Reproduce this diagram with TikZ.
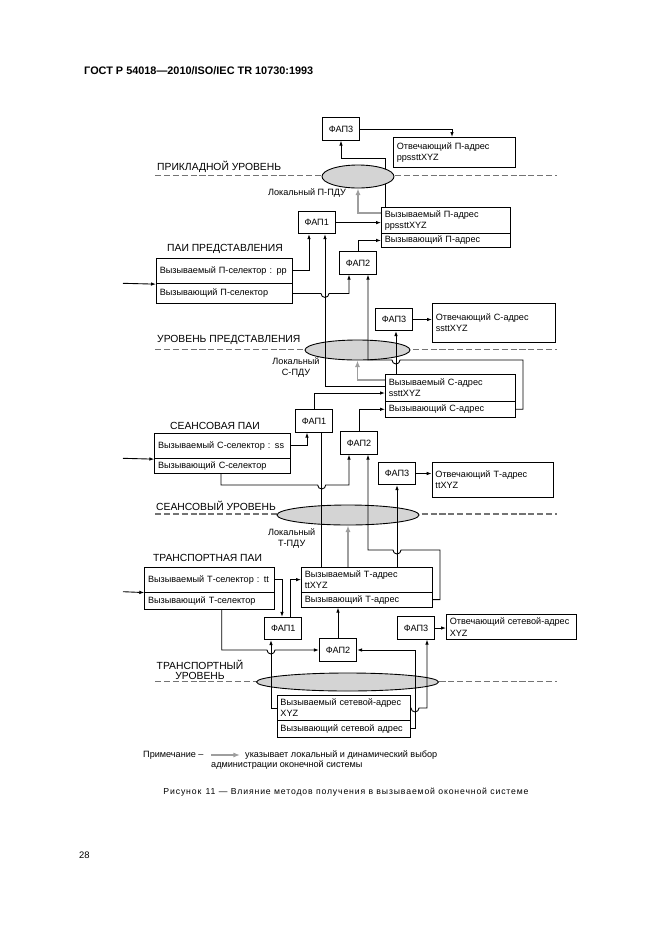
\documentclass[tikz,border=0pt]{standalone}
\usepackage{fontspec}
\setmainfont{Liberation Sans}
\usetikzlibrary{arrows.meta,shapes.geometric}

\definecolor{hintgray}{gray}{0.62}
\definecolor{cloudgray}{gray}{0.83}
\definecolor{levelgray}{gray}{0.45}

\begin{document}
\begin{tikzpicture}[x=0.9pt, y=-0.9pt,
  fap/.style ={draw, line width=0.8pt, minimum width=33.5pt, minimum height=20pt, inner sep=0pt, font=\fontsize{8.2}{10}\selectfont},
  field/.style ={draw, line width=0.8pt, anchor=north west, align=left, inner xsep=3pt, inner ysep=0pt, font=\fontsize{8.2}{10}\selectfont},
  cloud/.style ={ellipse, draw, line width=0.8pt, fill=cloudgray, inner sep=0pt},
  level/.style ={inner sep=0pt, align=center, font=\fontsize{9.3}{9.6}\selectfont},
  note/.style ={inner sep=0pt, align=center, font=\fontsize{8.2}{10}\selectfont},
  link/.style ={line width=0.8pt, -{Latex[length=4.5pt,width=3.2pt]}},
  hint/.style ={line width=1.6pt, hintgray, -{Latex[length=6pt,width=4.6pt]}}]
 \useasboundingbox (0,0) rectangle (661,936);
 \node[inner sep=0pt, anchor=west, font=\bfseries\fontsize{9.8}{12}\selectfont] (HD) at (84,70.5) {ГОСТ Р 54018—2010/ISO/IEC TR 10730:1993};
 \node[inner sep=0pt, anchor=west, font=\fontsize{8.5}{10}\selectfont] (PG) at (79,855) {28};
 % presentation
 \node[fap] (A) at (341,129) {ФАП3};
 \node[field, text width=103.8pt, minimum height=27pt] (B) at (393,137) {Отвечающий П-адрес\\ppssttXYZ};
 \node[field, text width=110.1pt, minimum height=23.4pt] (C) at (381,207) {Вызываемый П-адрес\\ppssttXYZ};
 \node[field, text width=110.1pt, minimum height=12.6pt] (D) at (381,233) {Вызывающий П-адрес};
 \node[fap] (E) at (316.7,222.6) {ФАП1};
 \node[fap] (F) at (358,263) {ФАП2};
 \node[field, text width=116.1pt, minimum height=23pt] (G) at (156,257.7) {Вызываемый П-селектор : pp};
 \node[field, text width=116.1pt, minimum height=17.5pt] (H) at (156,283.3) {Вызывающий П-селектор};
 % session
 \node[fap] (I) at (394,319.5) {ФАП3};
 \node[field, text width=104.7pt, minimum height=34.8pt] (J) at (432,303) {Отвечающий С-адрес\\ssttXYZ};
 \node[field, text width=111pt, minimum height=24.3pt] (K) at (385,374) {Вызываемый С-адрес\\ssttXYZ};
 \node[field, text width=111pt, minimum height=14.1pt] (L) at (385,401) {Вызывающий С-адрес};
 \node[fap] (M) at (314,421) {ФАП1};
 \node[fap] (N) at (359,443) {ФАП2};
 \node[field, text width=116.1pt, minimum height=23pt] (O) at (154.3,432.7) {Вызываемый С-селектор : ss};
 \node[field, text width=116.1pt, minimum height=13.5pt] (P) at (154.3,458.3) {Вызывающий С-селектор};
 % transport
 \node[fap] (Q) at (397,473.5) {ФАП3};
 \node[field, text width=103.4pt, minimum height=31.5pt] (R) at (431.7,461.7) {Отвечающий Т-адрес\\ttXYZ};
 \node[field, text width=110.7pt, minimum height=22.5pt] (S) at (144.3,566.7) {Вызываемый Т-селектор : tt};
 \node[field, text width=110.7pt, minimum height=15.8pt] (T) at (144.3,591.7) {Вызывающий Т-селектор};
 \node[field, text width=111.6pt, minimum height=22.5pt] (U) at (301,566.7) {Вызываемый Т-адрес\\ttXYZ};
 \node[field, text width=111.6pt, minimum height=13.5pt] (V) at (301,591.7) {Вызывающий Т-адрес};
 \node[fap] (W) at (283.3,628.5) {ФАП1};
 \node[fap] (X) at (338,650) {ФАП2};
 \node[fap] (Y) at (416,628) {ФАП3};
 \node[field, text width=111pt, minimum height=22.8pt] (Z) at (446,614) {Отвечающий сетевой-адрес\\XYZ};
 \node[field, text width=114pt, minimum height=22.5pt] (AA) at (276.7,695) {Вызываемый сетевой-адрес\\XYZ};
 \node[field, text width=114pt, minimum height=15pt] (BB) at (276.7,720) {Вызывающий сетевой адрес};
 % levels
 \draw[levelgray, line width=1.1pt, dash pattern=on 5.5pt off 2.5pt] (155,175.7) -- (557,175.7);
 \draw[levelgray, line width=1.1pt, dash pattern=on 5.5pt off 2.5pt] (155,349.3) -- (557,349.3);
 \draw[levelgray, line width=1.1pt, dash pattern=on 5.5pt off 2.5pt] (155,514) -- (557,514);
 \draw[levelgray, line width=1.1pt, dash pattern=on 5.5pt off 2.5pt] (155,681.7) -- (557,681.7);
 \draw[link] (385,0 |- C.north) -- (385,158) -| (A.south);
 \node[cloud, minimum width=64.8pt, minimum height=20.7pt] (EA) at (358,176.5) {};
 \node[cloud, minimum width=94.5pt, minimum height=18pt] (EB) at (357.5,350) {};
 \node[cloud, minimum width=127.8pt, minimum height=18pt] (EC) at (348,515) {};
 \node[cloud, minimum width=163.8pt, minimum height=16.2pt] (ED) at (347.5,682) {};
 \node[level, anchor=west] (T1) at (157,166.5) {ПРИКЛАДНОЙ УРОВЕНЬ};
 \node[note] (T2) at (307,192.7) {Локальный П-ПДУ};
 \node[level] (T3) at (225,249.3) {ПАИ ПРЕДСТАВЛЕНИЯ};
 \node[level, anchor=west] (T4) at (157,340) {УРОВЕНЬ ПРЕДСТАВЛЕНИЯ};
 \node[note] (T5) at (296,367.5) {Локальный\\С-ПДУ};
 \node[level] (T6) at (215,426) {СЕАНСОВАЯ ПАИ};
 \node[level, anchor=west] (T7) at (156,506) {СЕАНСОВЫЙ УРОВЕНЬ};
 \node[note] (T8) at (291.7,538.3) {Локальный\\Т-ПДУ};
 \node[level] (T9) at (207.5,558.3) {ТРАНСПОРТНАЯ ПАИ};
 \node[level] (T10) at (200,670) {ТРАНСПОРТНЫЙ\\УРОВЕНЬ};
 % presentation links
 \draw[link] (A.east) -| (452,0 |- B.north);
 \draw[hint] (C.west |- 0,213) -| (EA.south);
 \draw[link] (E.east) -- (E.east -| C.west);
 \draw[link] (F.north) |- (D.west);
 \draw[link] (G.east) -| (309,0 |- E.south);
 \draw[link] (H.east) -- (321,0 |- H.east) arc[start angle=180, end angle=0, radius=4] -- (349,0 |- H.east) -- (349,0 |- F.south);
 \draw[link] (K.west |- 0,386) -| (325,0 |- E.south);
 \draw[link] (L.east) -- (523,0 |- L.east) -- (523,360) -- (400,360) arc[start angle=0, end angle=180, radius=4] -- (368,360) -- (368,0 |- F.south);
 % session links
 \draw[link] (I.east) -- (I.east -| J.west);
 \draw[link] (396,0 |- K.north) -- (396,0 |- I.south);
 \draw[hint] (K.west |- 0,380) -| (EB.south);
 \draw[link] (M.north) |- (K.west |- 0,393);
 \draw[link] (N.north) |- (L.west);
 \draw[link] (O.east) -| (307,0 |- M.south);
 \draw[link] (221,0 |- P.south) -- (221,485) -- (317.7,485) arc[start angle=180, end angle=0, radius=4] -- (349,485) -- (349,0 |- N.south);
 \draw[line width=0.8pt] (321.7,0 |- U.north) -- (321.7,0 |- M.south);
 \draw[link] (V.east) -- (440,0 |- V.east) -- (440,550) -- (401,550) arc[start angle=0, end angle=180, radius=4] -- (368,550) -- (368,0 |- N.south);
 % transport links
 \draw[link] (Q.east) -- (Q.east -| R.west);
 \draw[link] (397,0 |- U.north) -- (Q.south);
 \draw[hint] (348,0 |- U.north) -- (EC.south);
 \draw[link] (S.east) -| (282,0 |- W.north);
 \draw[link] (290,0 |- W.north) |- (U.west);
 \draw[link] (X.north) -- (X.north |- V.south);
 \draw[link] (221.7,0 |- T.south) -- (221.7,0 |- X.west) -- (267,0 |- X.west) arc[start angle=180, end angle=0, radius=4] -- (X.west);
 \draw[link] (BB.east) -- (415,0 |- BB.east) -- (415,0 |- X.east) -- (X.east);
 \draw[link] (AA.west) -| (271,0 |- W.south);
 \draw[link] (AA.east) -- (411,0 |- AA.east) arc[start angle=180, end angle=0, radius=4] -- (427,0 |- AA.east) -- (427,0 |- Y.south);
 \draw[link] (Y.east) -- (Y.east -| Z.west);
 % inputs
 \coordinate (IG) at (123,283.3);
 \coordinate (IO) at (123,458.3);
 \coordinate (IS) at (123,591.7);
 \draw[link] (IG) -- (G.south west);
 \draw[link] (IO) -- (O.south west);
 \draw[link] (IS) -- (S.south west);
 % note and caption
 \node[note, anchor=west] (NT) at (143,755) {Примечание –};
 \coordinate (N1) at (211,755);
 \coordinate (N2) at (240,755);
 \draw[hint, line width=1.2pt] (N1) -- (N2);
 \node[note, anchor=west] (NU) at (245,755) {указывает локальный и динамический выбор};
 \node[note, anchor=west] (NV) at (211,765.5) {администрации оконечной системы};
 \node[inner sep=0pt, font=\fontsize{7.8}{10}\selectfont\addfontfeature{LetterSpace=10}] (CAP) at (346,792.3) {Рисунок\enspace 11 — Влияние методов получения в вызываемой оконечной системе};
\end{tikzpicture}
\end{document}
